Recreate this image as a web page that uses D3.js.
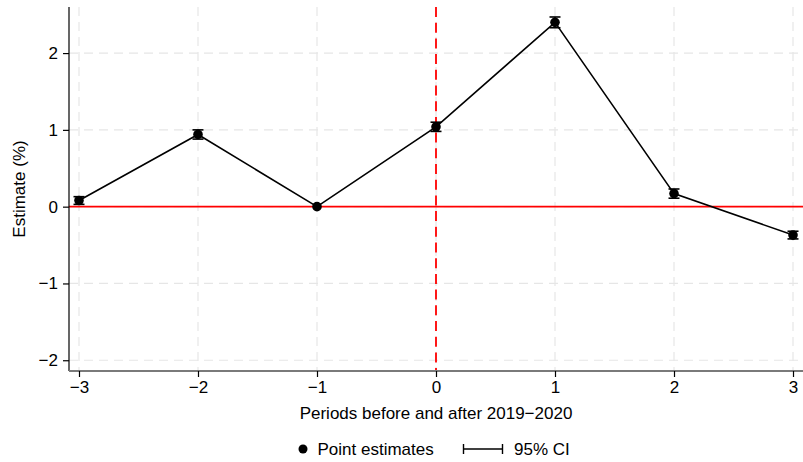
<!DOCTYPE html>
<html><head><meta charset="utf-8">
<script src="https://cdn.jsdelivr.net/npm/d3@7"></script>
<style>
html,body{margin:0;padding:0;background:#fff;}
svg text{font-family:"Liberation Sans",Arial,Helvetica,sans-serif;fill:#000;}
</style>
</head><body>
<svg id="chart" width="803" height="462"></svg>
<script>
const periods = [-3, -2, -1, 0, 1, 2, 3];
const estimates = [0.08, 0.94, 0.00, 1.04, 2.40, 0.17, -0.37];
const ciLow  = [0.03, 0.88, 0.00, 0.98, 2.33, 0.11, -0.42];
const ciHigh = [0.13, 1.00, 0.00, 1.10, 2.47, 0.23, -0.32];
const xTicks = [-3, -2, -1, 0, 1, 2, 3];
const yTicks = [-2, -1, 0, 1, 2];
const xTitle = "Periods before and after 2019\u22122020";
const yTitle = "Estimate (%)";
const legendLabels = ["Point estimates", "95% CI"];

(function () {
const svg = d3.select("#chart");
const pL = 69, pR = 803, pT = 7, pB = 371;
const x = d3.scaleLinear().domain([-3.084, 3.084]).range([pL, pR]);
const y = d3.scaleLinear().domain([-2.14, 2.60]).range([pB, pT]);
const fmt = d => d < 0 ? "\u2212" + Math.abs(d) : String(d);

// grid
const g = svg.append("g");
g.selectAll("line.vg").data(xTicks).join("line")
  .attr("x1", d => x(d)).attr("x2", d => x(d)).attr("y1", pT).attr("y2", pB)
  .attr("stroke", "#e6e6e6").attr("stroke-width", 1.2).attr("stroke-dasharray", "9,6");
g.selectAll("line.hg").data(yTicks).join("line")
  .attr("x1", pL).attr("x2", pR).attr("y1", d => y(d)).attr("y2", d => y(d))
  .attr("stroke", "#e6e6e6").attr("stroke-width", 1.2).attr("stroke-dasharray", "9,6");

// reference lines
svg.append("line").attr("x1", x(0)).attr("x2", x(0)).attr("y1", pT).attr("y2", pB)
  .attr("stroke", "#ff0000").attr("stroke-width", 1.8).attr("stroke-dasharray", "10,5.7");
svg.append("line").attr("x1", pL).attr("x2", pR).attr("y1", y(0)).attr("y2", y(0))
  .attr("stroke", "#ff0000").attr("stroke-width", 1.6);

// axes
const yAxis = svg.append("g").attr("transform", `translate(${pL},0)`)
  .call(d3.axisLeft(y).tickValues(yTicks).tickFormat(fmt).tickSize(6).tickPadding(5));
yAxis.select(".domain").attr("d", `M0,${pT}V${pB}`).attr("stroke", "#000").attr("stroke-width", 1.2);
yAxis.selectAll(".tick line").attr("stroke", "#000").attr("stroke-width", 1.2);
yAxis.selectAll("text").attr("font-size", 17).style("font-family", "Liberation Sans, Arial, sans-serif").attr("fill", "#000");

const xAxis = svg.append("g").attr("transform", `translate(0,${pB})`)
  .call(d3.axisBottom(x).tickValues(xTicks).tickFormat(fmt).tickSize(6).tickPadding(4));
xAxis.select(".domain").attr("d", `M${pL},0H${pR}`).attr("stroke", "#7a7a7a").attr("stroke-width", 2);
xAxis.selectAll(".tick line").attr("stroke", "#000").attr("stroke-width", 1.2);
xAxis.selectAll("text").attr("font-size", 17).style("font-family", "Liberation Sans, Arial, sans-serif").attr("fill", "#000");

// titles
svg.append("text").attr("x", (pL + pR) / 2).attr("y", 413).attr("dy", "0.35em")
  .attr("text-anchor", "middle").attr("font-size", 17).text(xTitle);
svg.append("text").attr("transform", `translate(19,${(pT + pB) / 2}) rotate(-90)`)
  .attr("dy", "0.35em").attr("text-anchor", "middle").attr("font-size", 17).text(yTitle);

// data
const data = periods.map((p, i) => ({p, e: estimates[i], lo: ciLow[i], hi: ciHigh[i]}));
svg.append("path").datum(data)
  .attr("d", d3.line().x(d => x(d.p)).y(d => y(d.e)))
  .attr("fill", "none").attr("stroke", "#000").attr("stroke-width", 1.6);

const ci = svg.append("g").selectAll("g").data(data.filter(d => d.hi > d.lo)).join("g");
ci.append("line").attr("x1", d => x(d.p)).attr("x2", d => x(d.p))
  .attr("y1", d => y(d.lo)).attr("y2", d => y(d.hi)).attr("stroke", "#000").attr("stroke-width", 1.6);
ci.append("line").attr("x1", d => x(d.p) - 5.5).attr("x2", d => x(d.p) + 5.5)
  .attr("y1", d => y(d.lo)).attr("y2", d => y(d.lo)).attr("stroke", "#000").attr("stroke-width", 1.6);
ci.append("line").attr("x1", d => x(d.p) - 5.5).attr("x2", d => x(d.p) + 5.5)
  .attr("y1", d => y(d.hi)).attr("y2", d => y(d.hi)).attr("stroke", "#000").attr("stroke-width", 1.6);

svg.append("g").selectAll("circle").data(data).join("circle")
  .attr("cx", d => x(d.p)).attr("cy", d => y(d.e)).attr("r", 4.8).attr("fill", "#000");

// legend
const ly = 449;
svg.append("circle").attr("cx", 303).attr("cy", ly).attr("r", 4.5).attr("fill", "#000");
svg.append("text").attr("x", 317.5).attr("y", ly).attr("dy", "0.35em").attr("font-size", 17).text(legendLabels[0]);
svg.append("line").attr("x1", 463).attr("x2", 503).attr("y1", ly).attr("y2", ly).attr("stroke", "#000").attr("stroke-width", 1.6);
svg.append("line").attr("x1", 463.5).attr("x2", 463.5).attr("y1", ly - 5).attr("y2", ly + 5).attr("stroke", "#000").attr("stroke-width", 1.4);
svg.append("line").attr("x1", 502.5).attr("x2", 502.5).attr("y1", ly - 5).attr("y2", ly + 5).attr("stroke", "#000").attr("stroke-width", 1.4);
svg.append("text").attr("x", 514).attr("y", ly).attr("dy", "0.35em").attr("font-size", 17).text(legendLabels[1]);
})();
</script>
</body></html>
